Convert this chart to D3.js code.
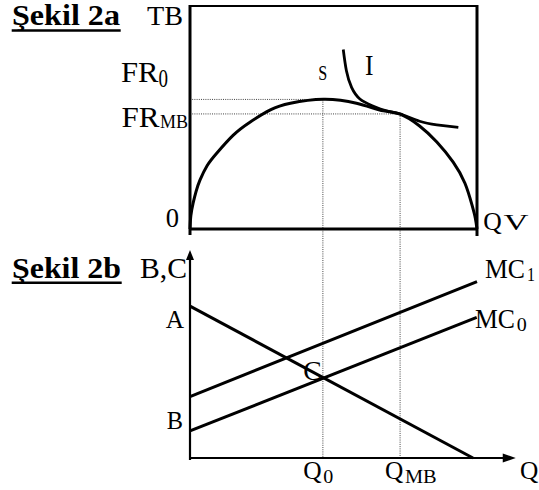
<!DOCTYPE html>
<html>
<head>
<meta charset="utf-8">
<script src="https://cdn.jsdelivr.net/npm/d3@7"></script>
<style>
  html, body { margin: 0; padding: 0; background: #fff; }
  svg { display: block; }
  text { font-family: "Liberation Serif", "Times New Roman", Times, serif; fill: #000; }
</style>
</head>
<body>
<svg id="chart" width="539" height="490"></svg>
<script>
// ---------- data ----------
// Figure 2a: production possibility (TB) curve, points [Q, value]
const tbCurve = [[0,0],[0.3,6],[1.1,11.7],[2.1,16.8],[3.5,22],[6,28.5],[9.3,34],[15,42],[21,48],
                 [28,53.4],[35,56.4],[46.5,58.2],[58,56.4],[67.4,53],[73.2,51.5],[80,46.2],
                 [86,39],[91.7,30],[95.8,20.5],[98.2,11],[99.4,5],[100,0]];
// Indifference curve I
const iCurve = [[53.4,80.5],[54.5,71],[56.3,63.5],[59.2,58.3],[63.5,55.3],[68.5,53.0],
                [73.2,51.6],[80,48.3],[86,46.7],[93.5,45.6]];
// reference levels
const q0 = 46.3, qMB = 73.2;
const fr0 = 58.1, frMB = 51.6;
// Figure 2b: straight lines [[x0,y0],[x1,y1]]
const demandLine = [[0,73.0],[98.6,0]];
const mc1Line = [[0,29.5],[100,84.8]];
const mc0Line = [[0,13.0],[99.9,67.6]];
const xAxisMax = 113.5;   // x axis with arrow
const yAxisMax = 100;     // y axis with arrow

// ---------- scales ----------
const svg = d3.select("#chart");
const x = d3.scaleLinear().domain([0,100]).range([190,477]);
const yTop = d3.scaleLinear().domain([0,100]).range([229,6]);
const yBot = d3.scaleLinear().domain([0,100]).range([458,250]);

const lineTop = d3.line().x(d => x(d[0])).y(d => yTop(d[1])).curve(d3.curveNatural);
const lineBot = d3.line().x(d => x(d[0])).y(d => yBot(d[1]));

// ---------- dotted guide lines ----------
const dot = g => g.attr("stroke","#444").attr("stroke-width",1).attr("stroke-dasharray","1 1.2").attr("fill","none");
svg.append("line").call(dot).attr("x1",x(0)).attr("x2",x(q0)).attr("y1",yTop(fr0)).attr("y2",yTop(fr0));
svg.append("line").call(dot).attr("x1",x(0)).attr("x2",x(qMB)).attr("y1",yTop(frMB)).attr("y2",yTop(frMB));
svg.append("line").call(dot).attr("x1",x(q0)).attr("x2",x(q0)).attr("y1",yTop(fr0)).attr("y2",yBot(0));
svg.append("line").call(dot).attr("x1",x(qMB)).attr("x2",x(qMB)).attr("y1",yTop(frMB)).attr("y2",yBot(0));

// ---------- top panel frame ----------
const solid = (g, w) => g.attr("stroke","#000").attr("stroke-width",w).attr("fill","none");
svg.append("line").call(solid,2.2).attr("x1",x(0)).attr("x2",x(100)).attr("y1",yTop(100)).attr("y2",yTop(100));
svg.append("line").call(solid,3).attr("x1",x(0)).attr("x2",x(100)).attr("y1",yTop(0)).attr("y2",yTop(0));
svg.append("line").call(solid,3).attr("x1",x(0)).attr("x2",x(0)).attr("y1",yTop(100)-1).attr("y2",yTop(0)+6);
svg.append("line").call(solid,3).attr("x1",x(100)).attr("x2",x(100)).attr("y1",yTop(100)-1).attr("y2",yTop(0)+7);

// curves
svg.append("path").datum(tbCurve).call(solid,3).attr("d",lineTop);
svg.append("path").datum(iCurve).call(solid,2.8).attr("d",lineTop);

// ---------- bottom panel ----------
svg.append("line").call(solid,2.2).attr("x1",x(0)).attr("x2",x(0)).attr("y1",yBot(yAxisMax)+8).attr("y2",yBot(0)+2);
svg.append("line").call(solid,2.2).attr("x1",x(0)).attr("x2",x(xAxisMax)-10).attr("y1",yBot(0)).attr("y2",yBot(0));
// arrowheads
svg.append("path").attr("fill","#000")
  .attr("d",`M${x(0)},${yBot(yAxisMax)} L${x(0)-4},${yBot(yAxisMax)+10} L${x(0)+4},${yBot(yAxisMax)+10} Z`);
svg.append("path").attr("fill","#000")
  .attr("d",`M${x(xAxisMax)},${yBot(0)} L${x(xAxisMax)-13},${yBot(0)-4.5} L${x(xAxisMax)-13},${yBot(0)+4.5} Z`);

[demandLine, mc1Line, mc0Line].forEach(l => {
  svg.append("path").datum(l).call(solid,3).attr("d",lineBot);
});

// ---------- labels ----------
function label(t, px, py, size, width, bold) {
  const el = svg.append("text").attr("x",px).attr("y",py).attr("font-size",size)
    .attr("font-family","'Liberation Serif', 'Times New Roman', serif").text(t);
  if (bold) el.attr("font-weight","bold");
  if (width) el.attr("textLength",width).attr("lengthAdjust","spacingAndGlyphs");
  return el;
}
// titles
label("Şekil 2a", 12, 25, 29, 108, true);
svg.append("line").call(solid,2.4).attr("x1",11.7).attr("x2",120.7).attr("y1",30.5).attr("y2",30.5);
label("Şekil 2b", 12, 278.3, 30, 109, true);
svg.append("line").call(solid,2.4).attr("x1",11.7).attr("x2",121.7).attr("y1",282.8).attr("y2",282.8);

// top panel
label("TB", 147, 25, 27, 36);
label("FR", 121, 81.7, 30, 37.5);
label("0", 158.5, 87, 26, 9.5);
label("FR", 121.5, 126.7, 30, 38);
label("MB", 160, 128.3, 18, 28);
label("0", 165.7, 226.7, 27, 13.3);
label("S", 318.3, 80, 22, 9);
label("I", 365, 75, 30, 8.5);
label("Q", 483.3, 230, 26, 18.5);
label("V", 503.5, 230, 24, 25);

// bottom panel
label("B,C", 140, 278, 29, 47);
label("A", 165.7, 328.3, 26, 18.3);
label("B", 166.7, 429.3, 25, 16.3);
label("MC", 485, 278.3, 27, 40);
label("1", 527, 281, 19, 8);
label("MC", 475, 328.3, 27, 40);
label("0", 516.7, 331, 19, 10);
label("C", 303.3, 380, 28, 18.4);
label("Q", 303.3, 479.3, 26, 18.4);
label("0", 323.3, 483.3, 19, 10);
label("Q", 385, 479.3, 26, 18.3);
label("MB", 405, 483.3, 18, 31.7);
label("Q", 520, 479.3, 26, 18.3);
</script>
</body>
</html>
